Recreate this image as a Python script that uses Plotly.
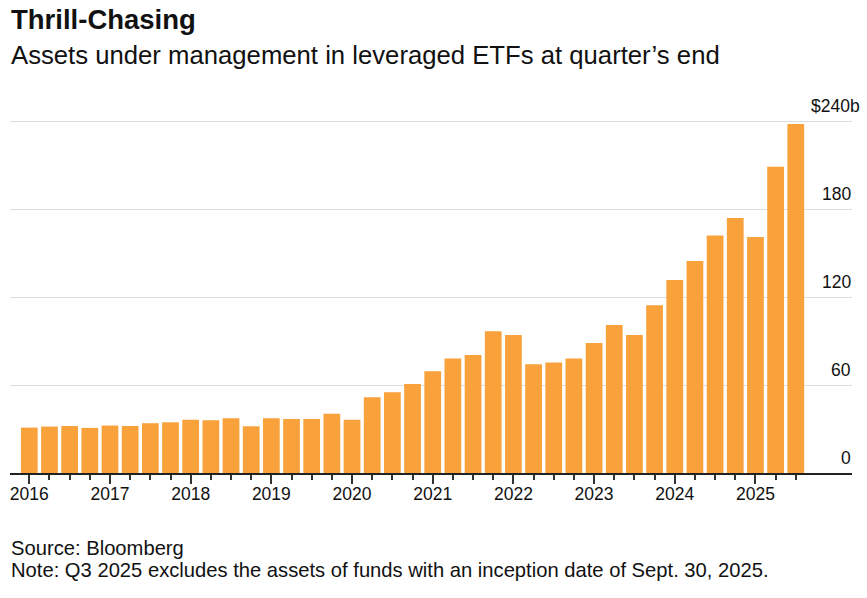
import plotly.graph_objects as go

# ---- data (US$ billions, assets under management at quarter end) ----
years = [2016, 2017, 2018, 2019, 2020, 2021, 2022, 2023, 2024, 2025]
quarters = [f"Q{q} {y}" for y in years for q in (1, 2, 3, 4)][:39]
aum = [
    31.0, 31.7, 32.1, 30.8,      # 2016
    32.4, 32.1, 34.0, 34.6,      # 2017
    36.4, 36.0, 37.4, 31.9,      # 2018
    37.4, 36.9, 36.9, 40.5,      # 2019
    36.4, 51.8, 55.2, 60.7,      # 2020
    69.5, 78.1, 80.6, 96.7,      # 2021
    94.2, 74.3, 75.4, 78.1,      # 2022
    88.7, 101.0, 94.2, 114.6,    # 2023
    131.8, 144.7, 162.1, 174.1,  # 2024
    161.2, 209.0, 238.2,         # 2025
]
y_tick_vals = [0, 60, 120, 180, 240]
y_tick_text = ["0", "60", "120", "180", "$240b"]
year_labels = [str(y) for y in years]

title = "Thrill-Chasing"
subtitle = "Assets under management in leveraged ETFs at quarter\u2019s end"
source = "Source: Bloomberg"
note = "Note: Q3 2025 excludes the assets of funds with an inception date of Sept. 30, 2025."

# ---- layout constants ----
W, H = 867, 598
Y_MAX = 241
M_L, M_R, M_B = 10, 15, 125
PX_PER_UNIT = 352 / 240
PLOT_H = Y_MAX * PX_PER_UNIT
M_T = H - M_B - PLOT_H
FONT = "Liberation Sans, Arial, sans-serif"
BAR_COLOR = "#F9A13B"
TXT = "#111111"

x_idx = list(range(len(quarters)))


def ypaper(px):
    """convert a pixel row (from top of page) to paper coordinates"""
    return (H - M_B - px) / PLOT_H


fig = go.Figure()
fig.add_trace(go.Bar(
    x=x_idx,
    y=aum,
    customdata=quarters,
    marker=dict(color=BAR_COLOR, line=dict(width=0)),
    hovertemplate="%{customdata}: $%{y:.1f}b<extra></extra>",
))

fig.update_layout(
    width=W, height=H,
    margin=dict(l=M_L, r=M_R, t=M_T, b=M_B, pad=0),
    paper_bgcolor="white", plot_bgcolor="white",
    bargap=0.17,
    showlegend=False,
    font=dict(family=FONT, color=TXT),
    xaxis=dict(
        range=[-0.957, 40.787],
        tickmode="array",
        tickvals=[x_idx[i] for i in range(0, len(quarters), 4)],
        ticktext=year_labels,
        ticks="outside", ticklen=9, tickwidth=1.5, tickcolor="#333333",
        minor=dict(tickmode="array", tickvals=x_idx, ticks="outside",
                   ticklen=5, tickwidth=1.5, tickcolor="#333333", showgrid=False),
        ticklabelstandoff=-5,
        showline=True, linecolor="#222222", linewidth=1.5,
        showgrid=False, zeroline=False,
        tickfont=dict(size=17.5, color=TXT, family=FONT),
        fixedrange=True,
    ),
    yaxis=dict(
        range=[0, Y_MAX],
        side="right",
        tickmode="array",
        tickvals=y_tick_vals,
        showticklabels=False,
        ticks="",
        showgrid=True, gridcolor="#dcdcdc", gridwidth=1.3,
        zeroline=False, showline=False,
        fixedrange=True,
    ),
)

# y-axis value labels sit above their gridlines, right-aligned at the plot edge
for v, t in zip(y_tick_vals, y_tick_text):
    fig.add_annotation(
        text=t, xref="paper", yref="y", x=1, y=v,
        xanchor="right", yanchor="bottom", showarrow=False,
        xshift=(10 if t.endswith("b") else 1), yshift=3,
        font=dict(size=17.5, color=TXT, family=FONT),
    )

ann = [
    dict(text=f"<b>{title}</b>", y=ypaper(19.1), size=27.5),
    dict(text=subtitle, y=ypaper(54.5), size=25.7),
    dict(text=source, y=ypaper(547.9), size=20.2),
    dict(text=note, y=ypaper(570.4), size=20.2),
]
for a in ann:
    fig.add_annotation(
        text=a["text"], xref="paper", yref="paper", x=0, y=a["y"],
        xanchor="left", yanchor="middle", showarrow=False, align="left",
        xshift=-1,
        font=dict(size=a["size"], color=TXT, family=FONT),
    )

fig.write_html(
    "out.html",
    config={"displayModeBar": False},
    post_script="document.body.style.margin='0';",
)
